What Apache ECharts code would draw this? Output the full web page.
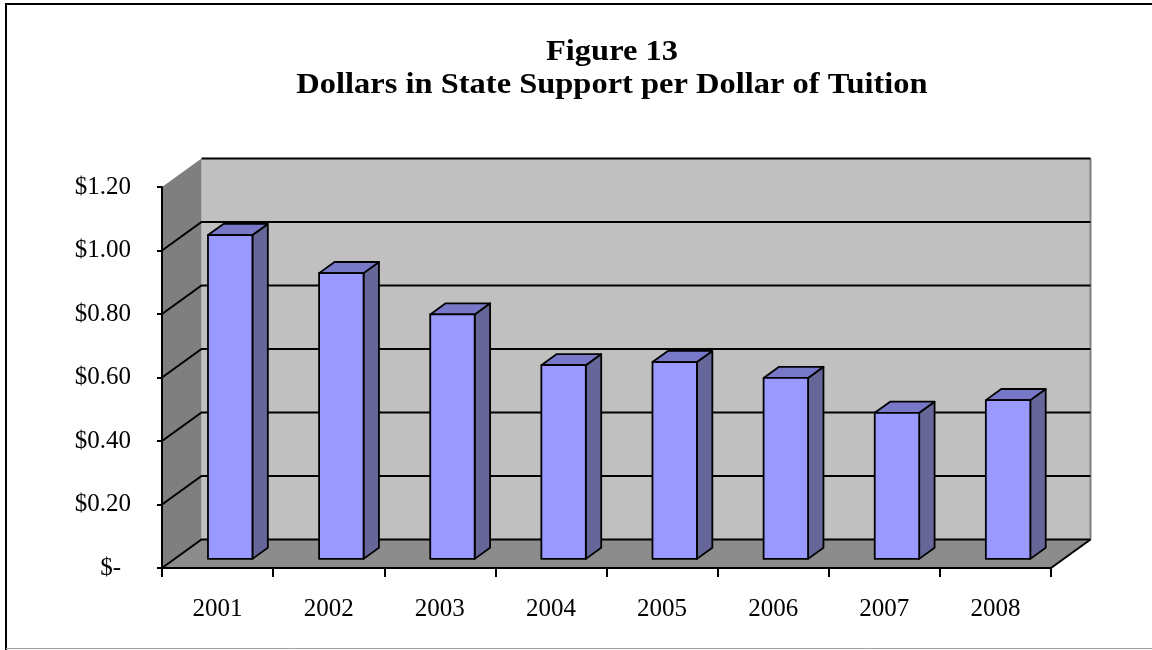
<!DOCTYPE html>
<html>
<head>
<meta charset="utf-8">
<script src="https://cdn.jsdelivr.net/npm/echarts@6/dist/echarts.min.js"></script>
<style>
  html, body { margin: 0; padding: 0; background: #fff; }
  #chart { width: 1152px; height: 650px; }
</style>
</head>
<body>
<div id="chart"></div>
<script>
// Fiscal years and state support per tuition dollar
const categories = ['2001', '2002', '2003', '2004', '2005', '2006', '2007', '2008'];
const supportPerTuition = [1.02, 0.90, 0.77, 0.61, 0.62, 0.57, 0.46, 0.50];
const yTickValues = [0, 0.2, 0.4, 0.6, 0.8, 1.0, 1.2];
const titleLines = ['Figure 13', 'Dollars in State Support per Dollar of Tuition'];

// Oblique projection used for the pseudo-3D box (pixels of depth offset)
const DEPTH = [39.5, -28.5];
const BAR_FRONT = 0.32;   // bar front face, fraction of depth
const BAR_BACK = 0.71;    // bar back face, fraction of depth
const BAR_RATIO = 0.4;    // bar width relative to category band

const Y_MIN = yTickValues[0];
const Y_MAX = yTickValues[yTickValues.length - 1];
const Y_STEP = yTickValues[1] - yTickValues[0];

const SERIF = 'Liberation Serif';
const LABEL_SIZE = 25;

function money(v) {
  if (Math.abs(v) < 1e-9) return '{z|$-}';
  return '$' + v.toFixed(2);
}

// Back wall, side wall, floor and gridlines
function renderWalls(params, api) {
  const cs = params.coordSys;
  const left = cs.x, right = cs.x + cs.width;
  const yTop = api.coord([0, Y_MAX])[1];
  const yZero = api.coord([0, Y_MIN])[1];
  const dx = DEPTH[0], dy = DEPTH[1];
  const children = [];
  children.push({
    type: 'rect',
    shape: { x: left + dx, y: yTop + dy, width: right - left, height: yZero - yTop },
    style: { fill: '#c0c0c0' }
  });
  children.push({
    type: 'polygon',
    shape: { points: [[left, yTop], [left + dx, yTop + dy], [left + dx, yZero + dy], [left, yZero]] },
    style: { fill: '#7f7f7f' }
  });
  children.push({
    type: 'polygon',
    shape: { points: [[left, yZero], [right, yZero], [right + dx, yZero + dy], [left + dx, yZero + dy]] },
    style: { fill: '#8c8c8c' }
  });
  children.push({
    type: 'line',
    shape: { x1: right + dx, y1: yTop + dy, x2: right + dx, y2: yZero + dy },
    style: { stroke: '#808080', lineWidth: 2 }
  });
  yTickValues.forEach(function (v) {
    const y = api.coord([0, v])[1];
    const pts = (v === Y_MAX)
      ? [[left + dx, y + dy], [right + dx, y + dy]]
      : [[left, y], [left + dx, y + dy], [right + dx, y + dy]];
    children.push({
      type: 'polyline',
      shape: { points: pts },
      style: { stroke: '#000', lineWidth: 2, fill: null }
    });
  });
  children.push({
    type: 'line',
    shape: { x1: right, y1: yZero, x2: right + dx, y2: yZero + dy },
    style: { stroke: '#000', lineWidth: 2 }
  });
  return { type: 'group', children: children };
}

// Box-shaped bar: front, top and right side faces
function renderBar(params, api) {
  const idx = api.value(0);
  const v = api.value(1);
  const topPt = api.coord([idx, v]);
  const basePt = api.coord([idx, 0]);
  const bw = api.size([1, 0])[0] * BAR_RATIO;
  const fx = DEPTH[0] * BAR_FRONT, fy = DEPTH[1] * BAR_FRONT;
  const ddx = DEPTH[0] * (BAR_BACK - BAR_FRONT), ddy = DEPTH[1] * (BAR_BACK - BAR_FRONT);
  const x0 = topPt[0] - bw / 2 + fx, x1 = topPt[0] + bw / 2 + fx;
  const yT = topPt[1] + fy, yB = basePt[1] + fy;
  const edge = { stroke: '#000', lineWidth: 1.8, lineJoin: 'round' };
  return {
    type: 'group',
    children: [
      {
        type: 'polygon',
        shape: { points: [[x1, yT], [x1 + ddx, yT + ddy], [x1 + ddx, yB + ddy], [x1, yB]] },
        style: Object.assign({ fill: '#666699' }, edge)
      },
      {
        type: 'polygon',
        shape: { points: [[x0, yT], [x1, yT], [x1 + ddx, yT + ddy], [x0 + ddx, yT + ddy]] },
        style: Object.assign({ fill: '#7878c8' }, edge)
      },
      {
        type: 'rect',
        shape: { x: x0, y: yT, width: x1 - x0, height: yB - yT },
        style: Object.assign({ fill: '#9999ff' }, edge)
      }
    ]
  };
}

// Two-line heading, slightly widened serif
function titleText(text, y) {
  return {
    type: 'text',
    x: 612,
    y: y,
    scaleX: 1.12,
    z: 10,
    style: {
      text: text,
      fontFamily: SERIF,
      fontWeight: 'bold',
      fontSize: 29,
      fill: '#000',
      align: 'center',
      verticalAlign: 'middle'
    }
  };
}

const chart = echarts.init(document.getElementById('chart'), null, { renderer: 'canvas' });

chart.setOption({
  animation: false,
  backgroundColor: '#ffffff',
  graphic: [
    {
      type: 'polyline',
      shape: { points: [[6, 650], [6, 4], [1152, 4]] },
      style: { stroke: '#000', lineWidth: 2, fill: null },
      z: 0
    },
    {
      type: 'line',
      shape: { x1: 6, y1: 648.5, x2: 1152, y2: 648.5 },
      style: { stroke: '#a0a0a0', lineWidth: 1 },
      z: 0
    },
    titleText(titleLines[0], 53),
    titleText(titleLines[1], 86)
  ],
  grid: {
    left: 162,
    top: 187,
    width: 889,
    height: 381,
    containLabel: false
  },
  xAxis: {
    type: 'category',
    data: categories,
    boundaryGap: true,
    axisLine: { show: true, lineStyle: { color: '#000', width: 2 } },
    axisTick: { show: true, length: 9, lineStyle: { color: '#000', width: 2 } },
    axisLabel: {
      margin: 29,
      color: '#000',
      fontFamily: SERIF,
      fontSize: LABEL_SIZE
    },
    splitLine: { show: false },
    z: 5
  },
  yAxis: {
    type: 'value',
    min: Y_MIN,
    max: Y_MAX,
    interval: Y_STEP,
    axisLine: { show: true, lineStyle: { color: '#000', width: 2 } },
    axisTick: { show: true, length: 5, lineStyle: { color: '#000', width: 2 } },
    axisLabel: {
      margin: 31,
      color: '#000',
      fontFamily: SERIF,
      fontSize: LABEL_SIZE,
      formatter: money,
      rich: {
        z: { fontFamily: SERIF, fontSize: LABEL_SIZE, color: '#000', padding: [0, 10, 0, 0] }
      }
    },
    splitLine: { show: false },
    z: 5
  },
  series: [
    {
      type: 'custom',
      name: 'walls',
      coordinateSystem: 'cartesian2d',
      renderItem: renderWalls,
      data: [[0, 0]],
      silent: true,
      z: 1
    },
    {
      type: 'custom',
      name: 'State support per tuition dollar',
      coordinateSystem: 'cartesian2d',
      renderItem: renderBar,
      encode: { x: 0, y: 1 },
      data: supportPerTuition.map(function (v, i) { return [i, v]; }),
      z: 3
    }
  ]
});
</script>
</body>
</html>
